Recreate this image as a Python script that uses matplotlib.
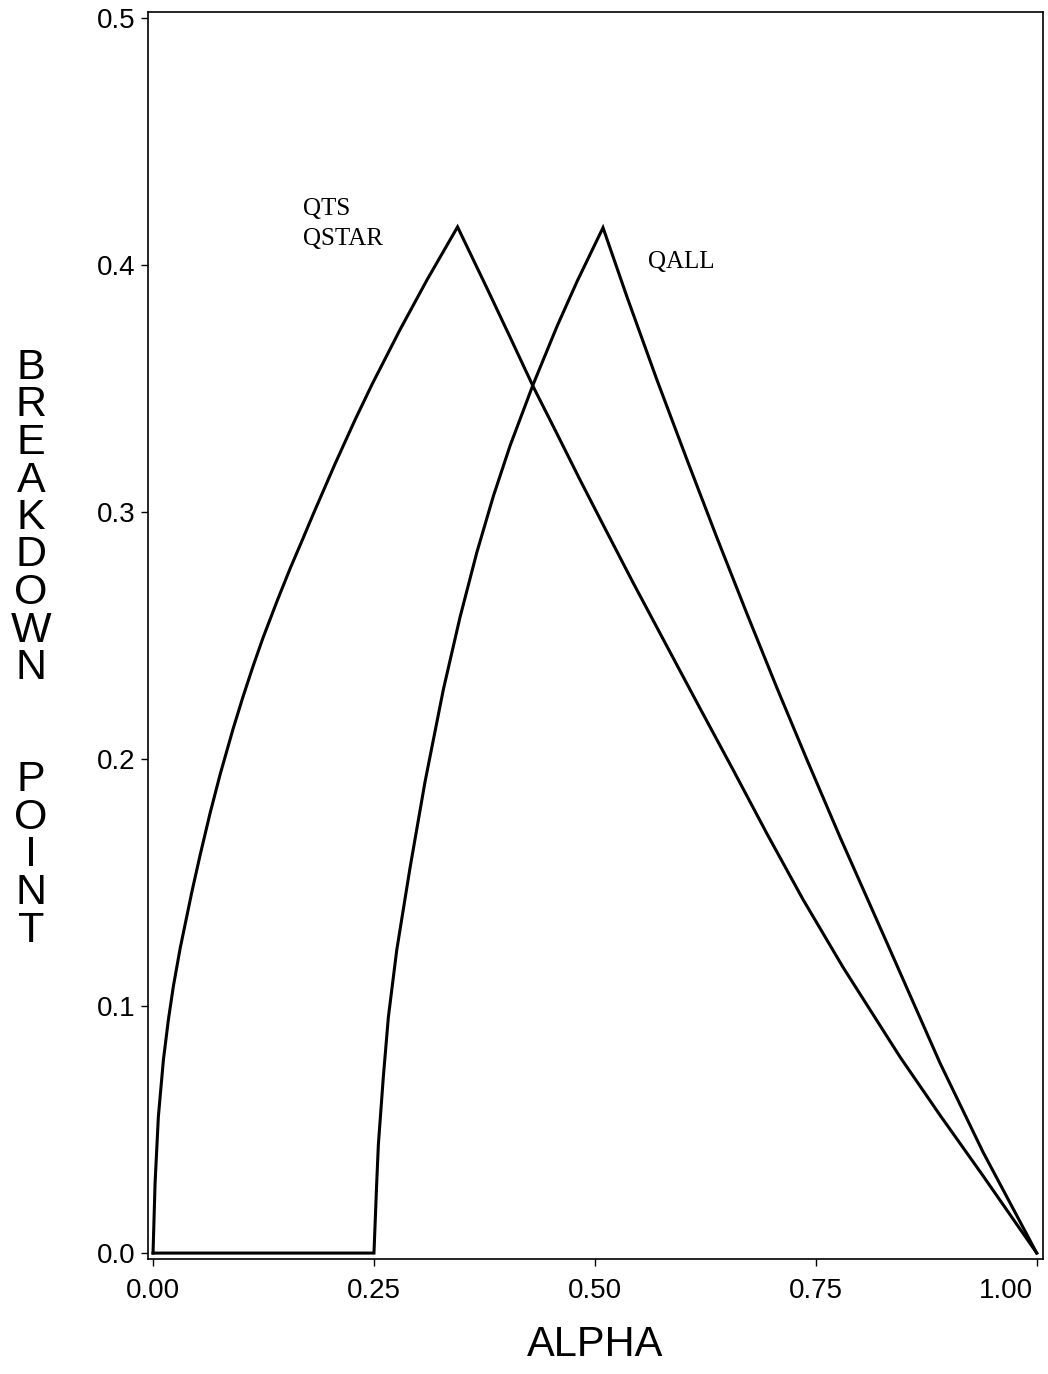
import matplotlib
matplotlib.use("Agg")
import matplotlib.pyplot as plt
import matplotlib.transforms as mtransforms

# Breakdown point as a function of alpha for the two estimator families
qts_alpha = [0.0, 0.0023, 0.0060, 0.0117, 0.0173, 0.0230, 0.0306, 0.0438, 0.0532,
             0.0645, 0.0758, 0.0905, 0.1018, 0.1132, 0.1245, 0.1403, 0.1550, 0.1697,
             0.1811, 0.2060, 0.2286, 0.2479, 0.2795, 0.3101, 0.3446,
             0.3780, 0.4040, 0.4300, 0.4572, 0.4832, 0.5092, 0.5432, 0.5816, 0.6190,
             0.6563, 0.6948, 0.7356, 0.7808, 0.8453, 0.8906, 0.9392, 1.0]
qts_bdp = [0.0, 0.0283, 0.0551, 0.0781, 0.0943, 0.1080, 0.1232, 0.1460, 0.1610,
           0.1780, 0.1936, 0.2121, 0.2252, 0.2376, 0.2491, 0.2639, 0.2770, 0.2893,
           0.2990, 0.3195, 0.3373, 0.3517, 0.3738, 0.3940, 0.4154,
           0.3905, 0.3708, 0.3509, 0.3316, 0.3130, 0.2949, 0.2714, 0.2456, 0.2205,
           0.1957, 0.1697, 0.1431, 0.1157, 0.0794, 0.0558, 0.0313, 0.0]

qall_alpha = [0.0, 0.25, 0.2531, 0.2550, 0.2606, 0.2663, 0.2758, 0.2908, 0.3078,
              0.3285, 0.3474, 0.3663, 0.3851, 0.4040, 0.4300, 0.4572, 0.4798, 0.5092,
              0.5364, 0.5703, 0.6043, 0.6382, 0.6722, 0.7061, 0.7401, 0.7774,
              0.8306, 0.8906, 0.9392, 1.0]
qall_bdp = [0.0, 0.0, 0.0283, 0.0440, 0.0713, 0.0955, 0.1227, 0.1559, 0.1908,
            0.2281, 0.2574, 0.2835, 0.3064, 0.3268, 0.3515, 0.3752, 0.3933, 0.4151,
            0.3870, 0.3534, 0.3211, 0.2895, 0.2587, 0.2287, 0.1996, 0.1684,
            0.1255, 0.0769, 0.0409, 0.0]

x_ticks = [0.0, 0.25, 0.50, 0.75, 1.00]
x_tick_labels = ["0.00", "0.25", "0.50", "0.75", "1.00"]
y_ticks = [0.0, 0.1, 0.2, 0.3, 0.4, 0.5]
y_tick_labels = ["0.0", "0.1", "0.2", "0.3", "0.4", "0.5"]

W, H = 1048, 1374
fig = plt.figure(figsize=(W / 100, H / 100), dpi=100)
fig.patch.set_facecolor("white")
ax = fig.add_axes([148 / W, 1 - 1259 / H, (1043 - 148) / W, (1259 - 12) / H])

ax.plot(qts_alpha, qts_bdp, color="black", lw=2.2, solid_joinstyle="miter")
ax.plot(qall_alpha, qall_bdp, color="black", lw=2.2, solid_joinstyle="miter")

ax.set_xlim(-0.0057, 1.0071)
ax.set_ylim(-0.0024, 0.5024)

sans = "Liberation Sans"
serif = "Liberation Serif"
ax.set_xticks(x_ticks)
ax.set_xticklabels(x_tick_labels, fontfamily=sans, fontsize=20)
ax.set_yticks(y_ticks)
ax.set_yticklabels(y_tick_labels, fontfamily=sans, fontsize=20)
ax.tick_params(direction="out", length=5, width=1.0, color="black")
ax.tick_params(axis="x", pad=9)
ax.tick_params(axis="y", pad=4)
for s in ax.spines.values():
    s.set_linewidth(1.2)
    s.set_color("black")

# keep the last x tick label inside the figure
last = ax.get_xticklabels()[-1]
last.set_horizontalalignment("right")
last.set_transform(last.get_transform() + mtransforms.ScaledTranslation(-4 / 100, 0, fig.dpi_scale_trans))

# Curve labels
ax.text(0.1697, 0.4202, "QTS", fontfamily=serif, fontsize=18, ha="left", va="baseline")
ax.text(0.1697, 0.4081, "QSTAR", fontfamily=serif, fontsize=18, ha="left", va="baseline")
ax.text(0.5601, 0.3988, "QALL", fontfamily=serif, fontsize=18, ha="left", va="baseline")

# Axis titles
fig.text(595 / W, 1 - 1356 / H, "ALPHA", fontfamily=sans, fontsize=30,
         ha="center", va="baseline")

ylabel_lines = list("BREAKDOWN") + ["", ""] + list("POINT")
step = 37.5
first_base = 379
for i, ch in enumerate(ylabel_lines):
    if ch:
        fig.text(31 / W, 1 - (first_base + i * step) / H, ch, fontfamily=sans,
                 fontsize=31, ha="center", va="baseline")

fig.savefig("out.png", dpi=100, facecolor="white")
